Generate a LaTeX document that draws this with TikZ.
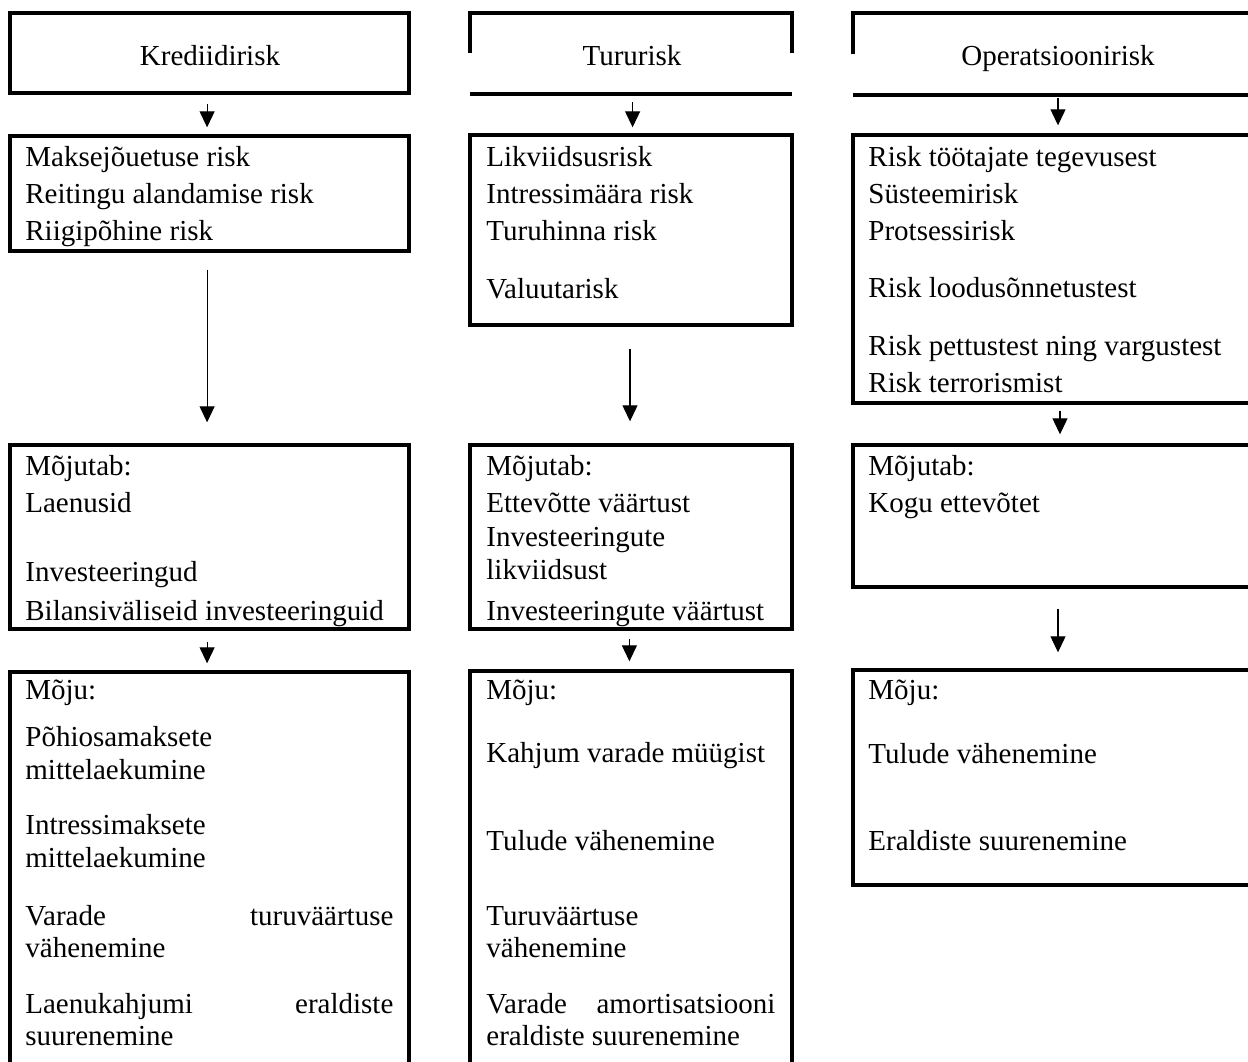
\documentclass[tikz,border=0pt]{standalone}
\usepackage{fontspec}
\setmainfont{Liberation Serif}
\usetikzlibrary{arrows.meta,fit}
\tikzset{
  boxn/.style={draw, line width=1.7pt, inner sep=0pt},
  hidbox/.style={inner sep=0pt},
  bline/.style={line width=1.7pt},
  txt/.style={anchor=base west, inner sep=0pt, font=\fontsize{14.5pt}{17pt}\selectfont},
  ttl/.style={anchor=base, inner sep=0pt, font=\fontsize{14.5pt}{17pt}\selectfont},
  arr/.style={line width=0.6pt, -{Triangle[length=8pt,width=7.5pt]}},
}
\begin{document}
\begin{tikzpicture}[x=0.5pt,y=-0.5pt]
\useasboundingbox (0,0) rectangle (1248,1061);
\clip (0,0) rectangle (1248,1061);

% ---------- row 1: titles ----------
\node[boxn, fit={(10,13) (409,93)}] (k1) {};
\node[hidbox, fit={(470,13) (792,94)}] (r1) {};
\node[hidbox, fit={(853,13) (1267,95)}] (o1) {};
\draw[bline] (470,53) |- (792,13) -- (792,53);
\draw[bline] (470,94) -- (792,94);
\draw[bline] (853,54) |- (1267,13);
\draw[bline] (853,95) -- (1267,95);
\node[ttl] (k1t) at (210,65) {Krediidirisk};
\node[ttl] (r1t) at (632,65) {Tururisk};
\node[ttl] (o1t) at (1058,65) {Operatsioonirisk};

% ---------- row 2 ----------
\node[boxn, fit={(10,136) (409,251)}] (k2) {};
\node[boxn, fit={(470,135) (792,325)}] (r2) {};
\node[boxn, fit={(853,135) (1267,403)}] (o2) {};
\node[txt] (k2a) at (25,166) {Maksejõuetuse risk};
\node[txt] (k2b) at (25,203) {Reitingu alandamise risk};
\node[txt] (k2c) at (25,240) {Riigipõhine risk};
\node[txt] (r2a) at (486,166) {Likviidsusrisk};
\node[txt] (r2b) at (486,203) {Intressimäära risk};
\node[txt] (r2c) at (486,240) {Turuhinna risk};
\node[txt] (r2d) at (486,298) {Valuutarisk};
\node[txt] (o2a) at (868,166) {Risk töötajate tegevusest};
\node[txt] (o2b) at (868,203) {Süsteemirisk};
\node[txt] (o2c) at (868,240) {Protsessirisk};
\node[txt] (o2d) at (868,297) {Risk loodusõnnetustest};
\node[txt] (o2e) at (868,355) {Risk pettustest ning vargustest};
\node[txt] (o2f) at (868,392) {Risk terrorismist};

% ---------- row 3 ----------
\node[boxn, fit={(10,445) (409,629)}] (k3) {};
\node[boxn, fit={(470,445) (792,629)}] (r3) {};
\node[boxn, fit={(853,445) (1267,587)}] (o3) {};
\node[txt] (k3a) at (25,475) {Mõjutab:};
\node[txt] (k3b) at (25,512) {Laenusid};
\node[txt] (k3c) at (25,581) {Investeeringud};
\node[txt] (k3d) at (25,620) {Bilansiväliseid investeeringuid};
\node[txt] (r3a) at (486,475) {Mõjutab:};
\node[txt] (r3b) at (486,512) {Ettevõtte väärtust};
\node[txt] (r3c) at (486,546) {Investeeringute};
\node[txt] (r3d) at (486,579) {likviidsust};
\node[txt] (r3e) at (486,620) {Investeeringute väärtust};
\node[txt] (o3a) at (868,475) {Mõjutab:};
\node[txt] (o3b) at (868,512) {Kogu ettevõtet};

% ---------- row 4 ----------
\node[boxn, fit={(10,672) (409,1080)}] (k4) {};
\node[boxn, fit={(470,671) (792,1080)}] (r4) {};
\node[boxn, fit={(853,670) (1267,885)}] (o4) {};
\node[txt] (k4a) at (25,699) {Mõju:};
\node[txt] (k4b) at (25,746) {Põhiosamaksete};
\node[txt] (k4c) at (25,779) {mittelaekumine};
\node[txt] (k4d) at (25,834) {Intressimaksete};
\node[txt] (k4e) at (25,867) {mittelaekumine};
\node[txt] (k4f) at (25,925) {\makebox[184pt][s]{Varade\hfill turuväärtuse}};
\node[txt] (k4g) at (25,957) {vähenemine};
\node[txt] (k4h) at (25,1013) {\makebox[184pt][s]{Laenukahjumi\hfill eraldiste}};
\node[txt] (k4i) at (25,1045) {suurenemine};
\node[txt] (r4a) at (486,699) {Mõju:};
\node[txt] (r4b) at (486,762) {Kahjum varade müügist};
\node[txt] (r4c) at (486,850) {Tulude vähenemine};
\node[txt] (r4d) at (486,925) {Turuväärtuse};
\node[txt] (r4e) at (486,957) {vähenemine};
\node[txt] (r4f) at (486,1013) {\makebox[144.5pt][s]{Varade\hfill amortisatsiooni}};
\node[txt] (r4g) at (486,1045) {eraldiste suurenemine};
\node[txt] (o4a) at (868,699) {Mõju:};
\node[txt] (o4b) at (868,763) {Tulude vähenemine};
\node[txt] (o4c) at (868,850) {Eraldiste suurenemine};

% ---------- arrows ----------
\draw[arr, shorten <=4.5pt, shorten >=3.5pt] ([xshift=-1.2pt]k1.south) -- ([xshift=-1.2pt]k2.north);
\draw[arr, shorten <=8.5pt, shorten >=10.5pt] ([xshift=-1.2pt]k2.south) -- ([xshift=-1.2pt]k3.north);
\draw[arr, shorten <=5.5pt, shorten >=3.5pt] ([xshift=-1.2pt]k3.south) -- ([xshift=-1.2pt]k4.north);
\draw[arr, shorten <=4pt, shorten >=3pt] ([xshift=0.8pt]r1.south) -- ([xshift=0.8pt]r2.north);
\draw[arr, shorten <=11pt, shorten >=11pt] ([xshift=-0.5pt]r2.south) -- ([xshift=-0.5pt]r3.north);
\draw[arr, shorten <=4pt, shorten >=4pt] ([xshift=-0.8pt]r3.south) -- ([xshift=-0.8pt]r4.north);
\draw[arr, shorten <=1.5pt, shorten >=4pt] ([xshift=-1pt]o1.south) -- ([xshift=-1pt]o2.north);
\draw[arr, shorten <=3pt, shorten >=4.5pt] (o2.south) -- (o3.north);
\draw[arr, shorten <=10pt, shorten >=8pt] ([xshift=-1pt]o3.south) -- ([xshift=-1pt]o4.north);
\end{tikzpicture}
\end{document}
